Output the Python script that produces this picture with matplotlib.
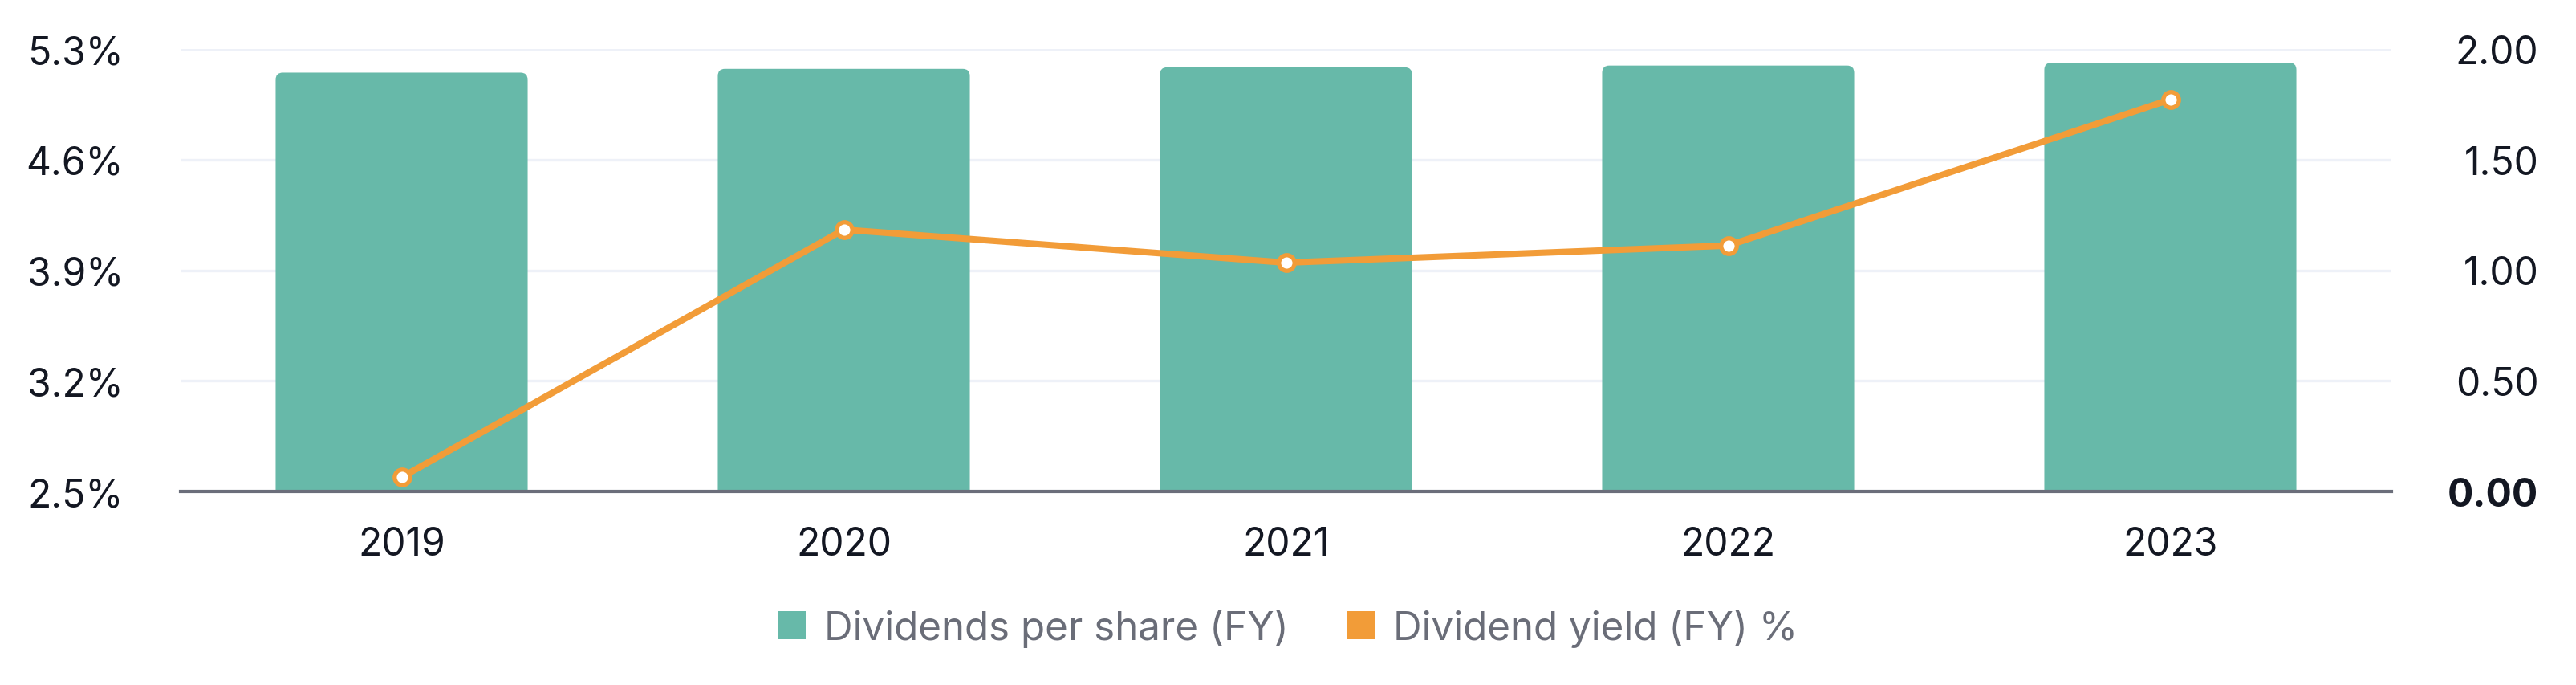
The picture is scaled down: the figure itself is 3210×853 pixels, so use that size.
import matplotlib
matplotlib.use("Agg")
import matplotlib.pyplot as plt
from matplotlib.patches import FancyBboxPatch, Patch
from matplotlib.ticker import FixedLocator, FuncFormatter

plt.rcParams['font.family'] = ['Inter', 'DejaVu Sans']

years = ["2019", "2020", "2021", "2022", "2023"]
dps = [1.893, 1.910, 1.917, 1.925, 1.938]          # Dividends per share (FY), right axis
yield_pct = [2.59, 4.157, 3.948, 4.056, 4.98]      # Dividend yield (FY) %, left axis
left_ticks = [2.5, 3.2, 3.9, 4.6, 5.3]
right_ticks = [0.0, 0.5, 1.0, 1.5, 2.0]

BAR = "#67b9a9"
ORANGE = "#f29c38"
GRID = "#eef1f8"
AXIS = "#6b6e7a"
TXT = "#131722"
LEG = "#6a6d78"

fig = plt.figure(figsize=(32.10, 8.54), dpi=100)
ax = fig.add_axes([225/3210, 1-613/854, (2980-225)/3210, (613-62)/854])
ax2 = ax.twinx()

x = list(range(len(years)))
bars = ax.bar(x, dps, width=0.57, color=BAR, zorder=1)
# round top corners
for b in bars:
    bx, by = b.get_x(), b.get_y()
    w, h = b.get_width(), b.get_height()
    b.set_visible(False)
    r = 0.016
    fp = FancyBboxPatch((bx, by - 0.05), w, h + 0.05,
                        boxstyle=f"round,pad=0,rounding_size={r}",
                        mutation_aspect=2.0, facecolor=BAR, edgecolor='none',
                        zorder=1, clip_on=True)
    ax.add_patch(fp)

ax.set_xlim(-0.5, len(years) - 0.5)
ax.set_ylim(0, 2.0)
ax.yaxis.tick_right()
ax.yaxis.set_major_locator(FixedLocator(right_ticks))
ax.yaxis.set_major_formatter(FuncFormatter(lambda v, p: f"{v:.2f}"))
ax.set_xticks(x)
ax.set_xticklabels(years)
ax.grid(axis='y', color=GRID, linewidth=2.4, zorder=0)
ax.set_axisbelow(True)
for s in ['top', 'left', 'right']:
    ax.spines[s].set_visible(False)
ax.spines['bottom'].set_color(AXIS)
ax.spines['bottom'].set_linewidth(3.0)
ax.spines['bottom'].set_zorder(3)
ax.tick_params(axis='x', length=0, pad=31, labelsize=34.5, labelcolor=TXT)
ax.tick_params(axis='y', length=0, pad=132, labelsize=34.5, labelcolor=TXT)
for lab in ax.get_yticklabels():
    lab.set_horizontalalignment('right')
ax.get_yticklabels()[0].set_fontweight('bold')

ax2.plot(x, yield_pct, color=ORANGE, linewidth=5.8, marker='o', markersize=14,
         markerfacecolor='white', markeredgecolor=ORANGE, markeredgewidth=3.8,
         zorder=5, solid_capstyle='round')
ax2.set_ylim(2.5, 5.3)
ax2.yaxis.tick_left()
ax2.yaxis.set_major_locator(FixedLocator(left_ticks))
ax2.yaxis.set_major_formatter(FuncFormatter(lambda v, p: f"{v:.1f}%"))
ax2.tick_params(axis='y', length=0, pad=51, labelsize=34.5, labelcolor=TXT)
for s in ax2.spines.values():
    s.set_visible(False)

handles = [Patch(facecolor=BAR, edgecolor='none', label="Dividends per share (FY)"),
           Patch(facecolor=ORANGE, edgecolor='none', label="Dividend yield (FY) %")]
leg = fig.legend(handles=handles, loc='center', bbox_to_anchor=(0.5, 1-783/854),
                 ncol=2, frameon=False, fontsize=35.5, handlelength=0.7,
                 handleheight=0.7, handletextpad=0.45, columnspacing=1.5,
                 borderpad=0)
for t in leg.get_texts():
    t.set_color(LEG)

fig.savefig("out.png", dpi=100, facecolor='white')
